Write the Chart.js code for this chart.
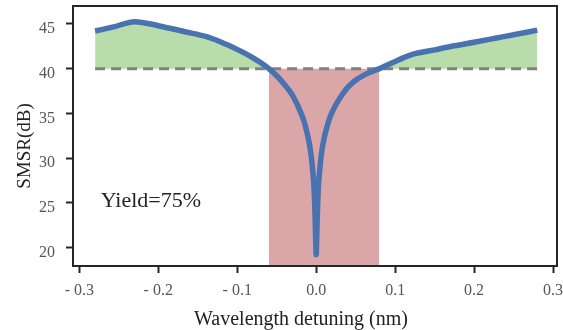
<!DOCTYPE html>
<html>
<head>
<meta charset="utf-8">
<script src="https://cdn.jsdelivr.net/npm/chart.js@4.4.0/dist/chart.umd.min.js"></script>
<style>
  html, body { margin: 0; padding: 0; background: #fff; }
  #wrap { width: 563px; height: 330px; }
</style>
</head>
<body>
<div id="wrap"><canvas id="myChart" width="563" height="330"></canvas></div>
<script>
// detuning (nm) and SMSR (dB)
const detuning = [-0.28, -0.255, -0.23, -0.2, -0.165, -0.14, -0.12, -0.1, -0.09, -0.08, -0.07, -0.06,
  -0.05, -0.04, -0.03, -0.02, -0.015, -0.01, -0.007, -0.005, -0.003, -0.002, -0.001, 0,
  0.001, 0.002, 0.003, 0.005, 0.007, 0.01, 0.015, 0.02, 0.03, 0.04, 0.05, 0.06, 0.07, 0.08,
  0.09, 0.1, 0.11, 0.12, 0.15, 0.175, 0.2, 0.23, 0.255, 0.28];
const smsr = [44.2, 44.7, 45.25, 44.8, 44.1, 43.6, 42.95, 42.15, 41.7, 41.2, 40.65, 40.0,
  39.2, 38.2, 37.0, 35.2, 34.0, 32.2, 30.7, 29.2, 27.0, 25.2, 22.2, 19.2,
  22.2, 25.2, 27.0, 29.2, 30.7, 32.2, 33.9, 35.1, 36.7, 37.9, 38.7, 39.25, 39.65, 40.0,
  40.4, 40.8, 41.2, 41.55, 42.1, 42.55, 42.95, 43.45, 43.87, 44.3];

const threshold = 40;                 // SMSR requirement
const thresholdRange = [-0.28, 0.28];
const failRange = [-0.06, 0.08];      // detuning band below threshold
const yieldText = 'Yield=75%';

const xTicks = [-0.3, -0.2, -0.1, 0, 0.1, 0.2, 0.3];
const yTicks = [20, 25, 30, 35, 40, 45];

const curve = detuning.map((x, i) => ({ x: x, y: smsr[i] }));
const above = detuning.map((x, i) => ({ x: x, y: Math.max(smsr[i], threshold) }));

const serif = '"Liberation Serif", "Times New Roman", serif';

// frame + titles + annotation
const decor = {
  id: 'decor',
  afterDraw(chart) {
    const c = chart.ctx, a = chart.chartArea;
    c.save();
    c.strokeStyle = '#262626';
    c.lineWidth = 2;
    c.strokeRect(a.left, a.top, a.right - a.left, a.bottom - a.top);

    c.fillStyle = '#222';
    c.font = '20px ' + serif;
    c.textAlign = 'center';
    c.textBaseline = 'alphabetic';
    c.fillText('Wavelength detuning (nm)', 301, 325);

    c.save();
    c.font = '19px ' + serif;
    c.translate(30, 146);
    c.rotate(-Math.PI / 2);
    c.fillText('SMSR(dB)', 0, 0);
    c.restore();

    c.font = '22px ' + serif;
    c.textAlign = 'left';
    const sx = chart.scales.x, sy = chart.scales.y;
    c.fillText(yieldText, sx.getPixelForValue(-0.273), sy.getPixelForValue(24.5));
    c.restore();
  }
};

const ctx = document.getElementById('myChart').getContext('2d');

let myChart = new Chart(ctx, {
  type: 'line',
  data: {
    datasets: [
      {
        data: curve,
        borderColor: '#4872b0',
        borderWidth: 5.5,
        borderJoinStyle: 'round',
        cubicInterpolationMode: 'monotone',
        pointRadius: 0,
        fill: false,
        order: 0,
      },
      {
        data: [{ x: thresholdRange[0], y: threshold }, { x: thresholdRange[1], y: threshold }],
        borderColor: '#808080',
        borderWidth: 3,
        borderDash: [10, 6],
        pointRadius: 0,
        fill: false,
        order: 1,
      },
      {
        data: above,
        borderWidth: 0,
        borderColor: 'rgba(0,0,0,0)',
        backgroundColor: '#b8dcaa',
        cubicInterpolationMode: 'monotone',
        pointRadius: 0,
        fill: { value: threshold },
        order: 2,
      },
      {
        data: [{ x: failRange[0], y: threshold }, { x: failRange[1], y: threshold }],
        borderWidth: 0,
        borderColor: 'rgba(0,0,0,0)',
        backgroundColor: '#dba6a8',
        pointRadius: 0,
        fill: 'start',
        order: 3,
      },
    ],
  },
  options: {
    responsive: false,
    animation: false,
    layout: { padding: { left: 0, right: 6, top: 6, bottom: 0 } },
    plugins: {
      legend: { display: false },
      tooltip: { enabled: false },
    },
    scales: {
      x: {
        type: 'linear',
        min: -0.308,
        max: 0.305,
        afterFit: (s) => { s.height = 64; s.paddingLeft = 0; s.paddingRight = 0; },
        afterBuildTicks: (s) => { s.ticks = xTicks.map(v => ({ value: v })); },
        grid: { display: true, drawOnChartArea: false, drawTicks: true, tickLength: 7, tickWidth: 2, tickColor: '#262626' },
        border: { display: false },
        ticks: {
          padding: 8,
          color: '#555',
          font: { family: serif, size: 16 },
          maxRotation: 0,
          callback: (v) => (v < 0 ? '- ' + Math.abs(v).toFixed(1) : v.toFixed(1)),
        },
      },
      y: {
        min: 17.94,
        max: 47.0,
        afterFit: (s) => { s.width = 73; s.paddingTop = 0; s.paddingBottom = 0; },
        afterBuildTicks: (s) => { s.ticks = yTicks.map(v => ({ value: v })); },
        grid: { display: true, drawOnChartArea: false, drawTicks: true, tickLength: 7, tickWidth: 2, tickColor: '#262626' },
        border: { display: false },
        ticks: {
          padding: 11,
          labelOffset: 5,
          color: '#555',
          font: { family: serif, size: 16 },
          callback: (v) => String(v),
        },
      },
    },
  },
  plugins: [decor],
});
</script>
</body>
</html>
